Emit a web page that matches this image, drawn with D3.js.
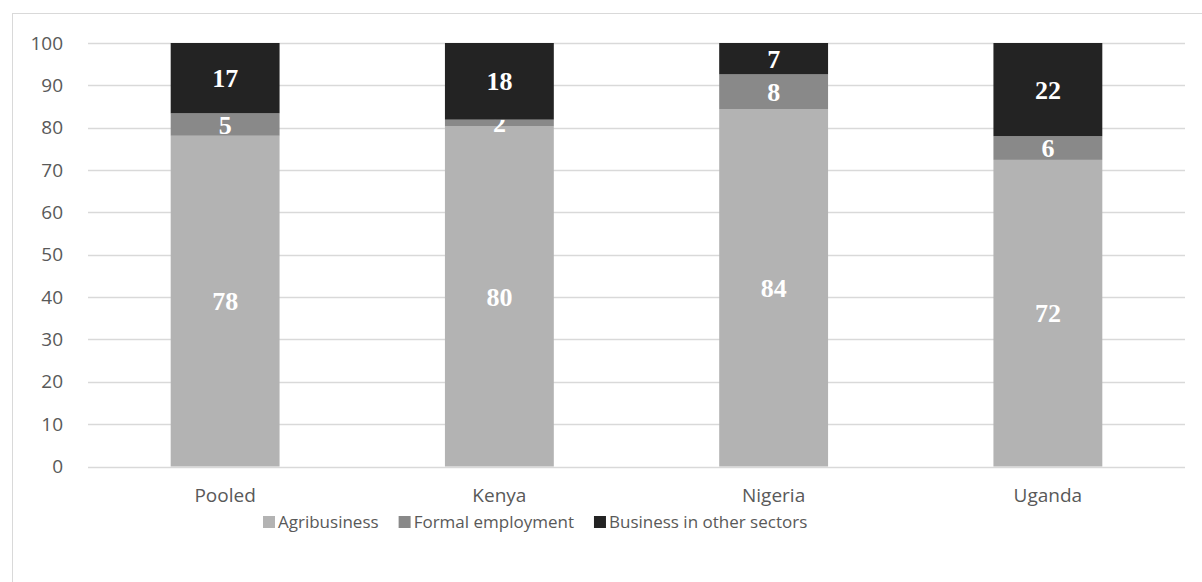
<!DOCTYPE html>
<html>
<head>
<meta charset="utf-8">
<script src="https://cdn.jsdelivr.net/npm/d3@7"></script>
<style>
  html, body { margin: 0; padding: 0; background: #fff; }
  svg { display: block; }
</style>
</head>
<body>
<svg id="chart" width="1202" height="582"></svg>
<script>
// Share of respondents by occupation type (%), per sample
const categories = ["Pooled", "Kenya", "Nigeria", "Uganda"];
const seriesNames = ["Agribusiness", "Formal employment", "Business in other sectors"];
const agribusiness = [78.1, 80.3, 84.4, 72.4];
const formalEmployment = [5.3, 1.6, 8.2, 5.6];
const otherBusiness = [16.6, 18.1, 7.4, 22.0];
const yTicks = [0, 10, 20, 30, 40, 50, 60, 70, 80, 90, 100];

const colors = ["#b3b3b3", "#898989", "#232323"];
const labelFont = "'Open Sans', sans-serif";
const axisSize = 19;
const legendSize = 17;

const rows = categories.map((c, i) => ({
  category: c,
  "Agribusiness": agribusiness[i],
  "Formal employment": formalEmployment[i],
  "Business in other sectors": otherBusiness[i]
}));

const svg = d3.select("#chart");
const W = 1202, H = 582;
const margin = { left: 88, right: 17, top: 43, bottom: 115.5 };

// outer chart frame
svg.append("rect")
  .attr("x", 12.5).attr("y", 13.5)
  .attr("width", W + 20).attr("height", H + 20)
  .attr("fill", "none").attr("stroke", "#d9d9d9").attr("stroke-width", 1);

const x = d3.scaleBand()
  .domain(categories)
  .range([margin.left, W - margin.right])
  .paddingInner(0.603)
  .paddingOuter(0.3015);

const y = d3.scaleLinear()
  .domain([0, 100])
  .range([H - margin.bottom, margin.top]);

// gridlines
svg.append("g")
  .selectAll("line")
  .data(yTicks)
  .join("line")
  .attr("x1", margin.left).attr("x2", W - margin.right)
  .attr("y1", d => Math.round(y(d)) + 0.5).attr("y2", d => Math.round(y(d)) + 0.5)
  .attr("stroke", "#d9d9d9").attr("stroke-width", 1.3);

// y axis labels
const yAxis = d3.axisLeft(y).tickValues(yTicks).tickSize(0).tickPadding(0);
const gy = svg.append("g")
  .attr("transform", `translate(${margin.left - 25},0)`)
  .call(yAxis);
gy.select(".domain").remove();
gy.selectAll("text")
  .attr("font-family", labelFont)
  .attr("font-size", axisSize)
  .attr("fill", "#595959");

// x axis labels
const xAxis = d3.axisBottom(x).tickSize(0).tickPadding(0);
const gx = svg.append("g")
  .attr("transform", `translate(0,${H - margin.bottom + 22})`)
  .call(xAxis);
gx.select(".domain").remove();
gx.selectAll("text")
  .attr("font-family", labelFont)
  .attr("font-size", axisSize)
  .attr("fill", "#595959");

// stacked bars
const stack = d3.stack().keys(seriesNames);
const layers = stack(rows);

const gLayers = svg.append("g")
  .selectAll("g")
  .data(layers)
  .join("g")
  .attr("fill", (d, i) => colors[i]);

gLayers.selectAll("rect")
  .data(d => d.map(s => ({ s, key: d.key })))
  .join("rect")
  .attr("x", d => x(d.s.data.category))
  .attr("width", x.bandwidth())
  .attr("y", d => y(d.s[1]))
  .attr("height", d => y(d.s[0]) - y(d.s[1]));

// value labels
const fmt = d3.format(".0f");
gLayers.selectAll("text")
  .data(d => d.map(s => ({ s, key: d.key })))
  .join("text")
  .attr("x", d => x(d.s.data.category) + x.bandwidth() / 2)
  .attr("y", d => (y(d.s[0]) + y(d.s[1])) / 2)
  .attr("dy", "0.35em")
  .attr("text-anchor", "middle")
  .attr("font-family", "'Liberation Serif', 'Times New Roman', serif")
  .attr("font-weight", "bold")
  .attr("font-size", 26)
  .attr("fill", "#ffffff")
  .text(d => fmt(d.s[1] - d.s[0]));

// legend: swatch + label, laid out left to right
const legend = svg.append("g").attr("transform", "translate(0,516)");
const items = legend.selectAll("g")
  .data(seriesNames)
  .join("g");
items.append("rect")
  .attr("width", 12).attr("height", 12)
  .attr("fill", (d, i) => colors[i]);
items.append("text")
  .attr("x", 15).attr("y", 6)
  .attr("dy", "0.35em")
  .attr("font-family", labelFont)
  .attr("font-size", legendSize)
  .attr("fill", "#595959")
  .text(d => d);
const widths = items.nodes().map(n => n.getBBox().width);
const gap = 20;
let cursor = 263;
items.attr("transform", (d, i) => {
  const t = `translate(${cursor},0)`;
  cursor += widths[i] + gap;
  return t;
});
</script>
</body>
</html>
